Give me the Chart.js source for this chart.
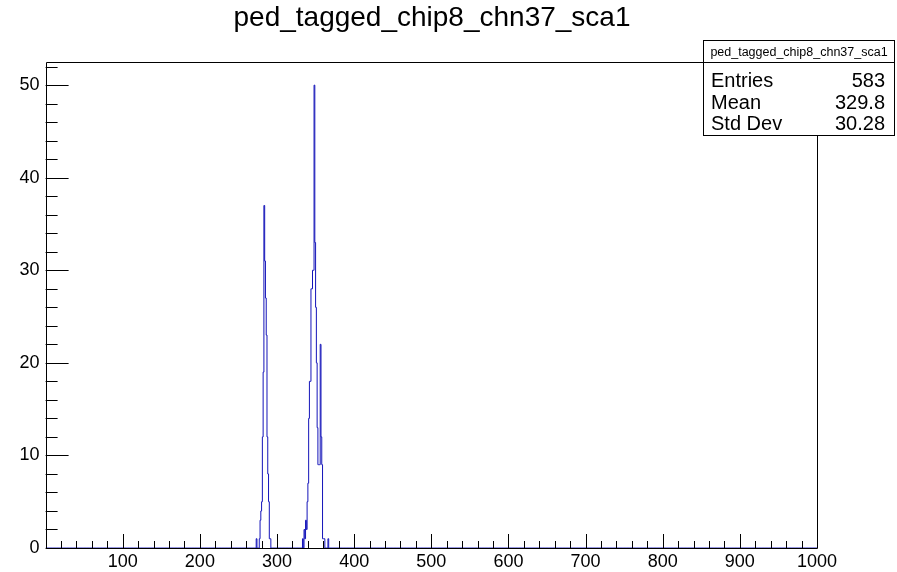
<!DOCTYPE html>
<html>
<head>
<meta charset="utf-8">
<script src="https://cdn.jsdelivr.net/npm/chart.js@4/dist/chart.umd.min.js"></script>
<style>
html,body{margin:0;padding:0;background:#fff;}
canvas{display:block;}
</style>
</head>
<body>
<canvas id="c" width="897" height="572"></canvas>
<script>
// ---- data (bin low edge, bin width 1, range 0..1000) ----
const histTitle = "ped_tagged_chip8_chn37_sca1";
const binLow = [274,278,279,280,281,282,283,284,285,286,287,288,289,290,291,292,
                334,336,337,338,339,340,341,342,343,344,345,346,347,348,349,350,351,352,353,354,355,356,357,358,359,360,361,362,367];
const binCount = [1,1,3,4,5,12,19,37,31,27,23,12,8,5,1,1,
                  1,2,1,3,2,5,7,14,18,18,28,28,30,30,50,33,26,20,13,9,9,9,22,12,9,1,1,1,1];
const xMin = 0, xMax = 1000, nBins = 1000;
const yMax = 52.5;
const xTickValues = [0,100,200,300,400,500,600,700,800,900,1000];
const yTickValues = [0,10,20,30,40,50];
const statLabels = ["Entries","Mean","Std Dev"];
const statValues = ["583","329.8","30.28"];

// build step points
const counts = new Array(nBins).fill(0);
binLow.forEach((b,i)=>{ counts[b - xMin] = binCount[i]; });
const pts = counts.map((c,i)=>({x: xMin + i, y: c}));
pts.push({x: xMax, y: counts[nBins-1]});

const FONT = '"Liberation Sans", Arial, Helvetica, sans-serif';

const frameTicks = {
  id:'frameTicks',
  afterDatasetsDraw(chart){
    const ctx = chart.ctx, a = chart.chartArea, xs = chart.scales.x, ys = chart.scales.y;
    ctx.save();
    ctx.strokeStyle = '#000';
    ctx.lineWidth = 1;
    ctx.beginPath();
    ctx.rect(Math.round(a.left)+0.5, Math.round(a.top)+0.5, Math.round(a.right)-Math.round(a.left), Math.round(a.bottom)-Math.round(a.top));
    ctx.stroke();
    ctx.beginPath();
    for(let v=xMin; v<=xMax; v+=20){
      const px = Math.round(xs.getPixelForValue(v))+0.5;
      const len = (v % 100 === 0) ? 14 : 7;
      ctx.moveTo(px, a.bottom); ctx.lineTo(px, a.bottom - len);
    }
    for(let v=0; v<=yMax; v+=2){
      const py = Math.round(ys.getPixelForValue(v))+0.5;
      const len = (v % 10 === 0) ? 23 : 12;
      ctx.moveTo(a.left, py); ctx.lineTo(a.left + len, py);
    }
    ctx.stroke();
    ctx.restore();
  },
  afterDraw(chart){
    const ctx = chart.ctx;
    ctx.save();
    ctx.fillStyle = '#000';
    ctx.font = '28px ' + FONT;
    ctx.textAlign = 'center';
    ctx.textBaseline = 'alphabetic';
    ctx.fillText(histTitle, 432, 26);
    // stats box
    const bx = 703.5, by = 40.5, bw = 191, bh = 95;
    ctx.fillStyle = '#fff';
    ctx.fillRect(bx, by, bw, bh);
    ctx.strokeStyle = '#000';
    ctx.lineWidth = 1;
    ctx.strokeRect(bx, by, bw, bh);
    ctx.beginPath();
    ctx.moveTo(bx, 62.5); ctx.lineTo(bx + bw, 62.5);
    ctx.stroke();
    ctx.fillStyle = '#000';
    ctx.font = '12.5px ' + FONT;
    ctx.textAlign = 'center';
    ctx.fillText(histTitle, bx + bw/2, 56);
    ctx.font = '20px ' + FONT;
    const base = [87, 108.5, 130];
    statLabels.forEach((l,i)=>{
      ctx.textAlign = 'left';
      ctx.fillText(l, 711, base[i]);
      ctx.textAlign = 'right';
      ctx.fillText(statValues[i], 885, base[i]);
    });
    ctx.restore();
  }
};

new Chart(document.getElementById('c'), {
  type: 'line',
  data: { datasets: [{
    data: pts,
    stepped: 'after',
    borderColor: 'rgb(20,20,185)',
    borderWidth: 1,
    pointRadius: 0,
    fill: false,
    tension: 0
  }]},
  options: {
    responsive: false,
    animation: false,
    devicePixelRatio: 1,
    parsing: false,
    normalized: true,
    layout: { padding: { top: 62, right: 80, left: 0, bottom: 0 } },
    plugins: { legend: { display: false }, tooltip: { enabled: false }, title: { display: false } },
    scales: {
      x: {
        type: 'linear', min: xMin, max: xMax,
        grid: { display: false, drawTicks: false },
        border: { display: false },
        afterBuildTicks: s => { s.ticks = xTickValues.map(v=>({value:v})); },
        afterFit: s => { s.height = 24; },
        ticks: {
          autoSkip: false, maxRotation: 0, padding: 3,
          color: '#000', font: { family: FONT, size: 18 },
          callback: v => v === 0 ? '' : String(v)
        }
      },
      y: {
        type: 'linear', min: 0, max: yMax,
        grid: { display: false, drawTicks: false },
        border: { display: false },
        afterBuildTicks: s => { s.ticks = yTickValues.map(v=>({value:v})); },
        afterFit: s => { s.width = 45.6; },
        ticks: {
          padding: 6, color: '#000', font: { family: FONT, size: 18 },
          callback: v => String(v)
        }
      }
    }
  },
  plugins: [frameTicks]
});
</script>
</body>
</html>
